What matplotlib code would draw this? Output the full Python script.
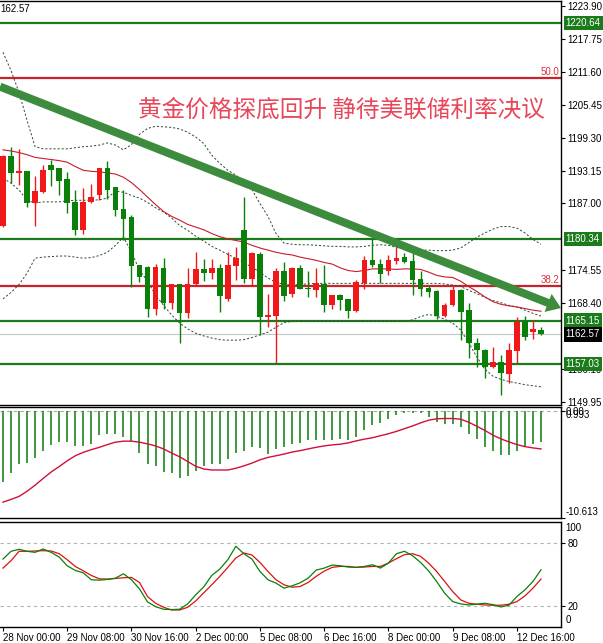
import matplotlib
matplotlib.use("Agg")
import matplotlib.pyplot as plt
import matplotlib.transforms as mtransforms
import numpy as np

plt.rcParams['font.family'] = ['Liberation Sans', 'DejaVu Sans']

# ---------------- data ----------------
opens = [1182.8, 1195.8, 1192.6, 1193.0, 1187.1, 1189.2, 1194.2, 1193.6, 1191.5, 1187.2,
         1182.0, 1187.2, 1188.5, 1193.6, 1190.0, 1185.9, 1184.5, 1175.5, 1175.2, 1167.4,
         1175.0, 1168.4, 1171.9, 1166.6, 1171.9, 1174.7, 1174.0, 1174.9, 1169.1, 1175.3,
         1182.0, 1172.9, 1177.5, 1165.9, 1166.0, 1174.4, 1170.2, 1174.9, 1171.3, 1170.8,
         1171.9, 1168.0, 1169.9, 1169.1, 1167.0, 1172.2, 1176.4, 1175.8, 1174.4, 1176.3,
         1177.0, 1176.2, 1173.0, 1171.2, 1170.6, 1166.0, 1168.0, 1170.8, 1167.1, 1160.9,
         1159.7, 1156.5, 1157.5, 1155.2, 1159.5, 1164.9, 1163.1, 1163.4]
highs = [1196.0, 1197.6, 1197.2, 1193.1, 1192.1, 1194.1, 1195.2, 1193.7, 1192.9, 1189.6,
         1189.8, 1190.7, 1193.7, 1195.0, 1190.1, 1189.5, 1184.8, 1175.6, 1175.3, 1175.8,
         1176.8, 1172.0, 1172.0, 1175.0, 1178.0, 1176.7, 1176.7, 1175.8, 1178.0, 1178.9,
         1188.2, 1178.0, 1178.0, 1170.2, 1174.9, 1176.1, 1175.1, 1175.5, 1174.4, 1174.9,
         1175.5, 1170.0, 1170.2, 1169.2, 1172.8, 1177.2, 1180.4, 1176.7, 1177.4, 1178.9,
         1177.7, 1177.8, 1174.5, 1171.8, 1170.8, 1168.5, 1171.8, 1171.1, 1168.4, 1162.0,
         1159.8, 1160.3, 1158.7, 1161.0, 1165.9, 1166.0, 1165.2, 1163.9]
lows = [1182.6, 1190.8, 1190.4, 1186.3, 1182.8, 1189.0, 1190.2, 1188.5, 1185.2, 1181.1,
        1181.4, 1187.0, 1187.6, 1187.9, 1184.6, 1180.1, 1171.4, 1172.4, 1165.9, 1166.2,
        1167.4, 1167.4, 1160.9, 1165.7, 1171.7, 1172.6, 1173.0, 1166.8, 1168.9, 1172.8,
        1172.2, 1171.8, 1162.5, 1164.0, 1157.3, 1168.8, 1169.6, 1171.0, 1169.6, 1169.6,
        1166.8, 1167.3, 1167.2, 1165.7, 1166.8, 1171.0, 1175.2, 1172.1, 1173.6, 1175.8,
        1175.9, 1169.9, 1169.7, 1169.5, 1165.4, 1165.8, 1167.8, 1161.5, 1158.1, 1156.5,
        1154.4, 1156.3, 1151.3, 1153.5, 1157.2, 1161.5, 1161.7, 1162.4]
closes = [1195.8, 1192.6, 1193.0, 1187.1, 1189.3, 1193.2, 1193.2, 1191.2, 1187.0, 1182.0,
          1187.2, 1188.3, 1193.6, 1189.6, 1185.7, 1184.2, 1175.4, 1173.2, 1167.4, 1175.2,
          1168.4, 1171.9, 1166.6, 1171.9, 1174.7, 1174.0, 1174.9, 1169.7, 1175.5, 1176.9,
          1172.9, 1177.7, 1165.9, 1166.2, 1174.4, 1169.7, 1175.0, 1171.1, 1171.0, 1172.1,
          1168.0, 1169.9, 1169.0, 1167.0, 1172.4, 1176.4, 1175.5, 1173.9, 1176.4, 1176.9,
          1176.1, 1172.8, 1171.0, 1170.5, 1166.0, 1168.0, 1170.8, 1166.8, 1160.9, 1159.7,
          1156.5, 1157.5, 1155.3, 1159.7, 1164.9, 1162.1, 1163.5, 1162.57]

ma_red = [1197.0, 1196.8, 1196.5, 1196.1, 1195.6, 1195.4, 1195.2, 1195.0, 1194.7, 1193.9,
          1193.2, 1193.0, 1192.9, 1192.7, 1192.5, 1191.9, 1190.9, 1189.6, 1188.2, 1186.8,
          1185.5, 1184.6, 1183.9, 1183.1, 1182.6, 1182.1, 1181.4, 1180.8, 1180.4, 1180.1,
          1179.8, 1179.2, 1178.7, 1178.3, 1177.9, 1177.6, 1177.4, 1177.0, 1176.7, 1176.4,
          1176.0, 1175.7, 1175.0, 1174.5, 1174.3, 1174.5, 1174.8, 1174.8, 1174.8, 1174.7,
          1174.8, 1174.8, 1174.7, 1174.2, 1173.6, 1173.3, 1173.2, 1172.5, 1171.5, 1170.6,
          1169.6, 1168.7, 1168.2, 1167.9, 1167.7, 1167.4, 1167.1, 1166.9]
bb_upper = [1215.2, 1211.8, 1207.7, 1202.5, 1197.6, 1197.2, 1197.2, 1197.2, 1197.2, 1197.4,
            1197.6, 1197.7, 1197.9, 1198.3, 1197.9, 1197.0, 1198.0, 1199.9, 1201.0, 1201.4,
            1201.3, 1201.2, 1200.9, 1200.3, 1199.4, 1198.2, 1196.0, 1194.5, 1193.2, 1192.3,
            1191.1, 1189.6, 1187.0, 1184.6, 1181.4, 1179.6, 1179.4, 1179.3, 1179.3, 1179.2,
            1179.1, 1179.0, 1179.0, 1178.9, 1178.9, 1179.0, 1179.2, 1179.3, 1179.2, 1178.8,
            1178.6, 1178.4, 1178.3, 1178.3, 1178.2, 1178.2, 1178.3, 1178.7, 1179.7, 1180.7,
            1181.5, 1182.2, 1182.7, 1182.7, 1182.4, 1181.5, 1180.3, 1179.4]
bb_middle = [1191.7, 1190.8, 1189.5, 1187.6, 1187.1, 1187.3, 1187.3, 1187.3, 1187.5, 1187.6,
             1187.6, 1187.6, 1187.7, 1188.0, 1189.3, 1189.1, 1188.5, 1188.0, 1187.2, 1186.2,
             1185.4, 1184.3, 1182.9, 1182.0, 1180.9, 1180.0, 1179.0, 1178.3, 1177.5, 1176.8,
             1176.0, 1175.1, 1174.2, 1173.1, 1172.3, 1171.9, 1171.8, 1171.9, 1172.0, 1172.1,
             1172.1, 1172.1, 1172.1, 1172.1, 1172.1, 1172.1, 1172.1, 1172.1, 1172.1, 1172.1,
             1172.1, 1172.1, 1172.1, 1172.1, 1172.1, 1172.0, 1171.8, 1171.5, 1170.8, 1170.2,
             1169.5, 1168.9, 1168.5, 1168.0, 1167.7, 1167.1, 1166.5, 1166.0]
bb_lower = [1169.2, 1170.4, 1171.9, 1174.0, 1176.8, 1177.0, 1177.1, 1177.2, 1177.2, 1177.0,
            1176.8, 1176.9, 1177.3, 1177.9, 1179.2, 1180.7, 1177.9, 1174.6, 1172.5, 1169.9,
            1168.0, 1166.2, 1164.7, 1163.6, 1162.8, 1162.3, 1161.9, 1161.6, 1161.5, 1161.5,
            1161.6, 1162.0, 1162.5, 1163.0, 1163.9, 1164.8, 1165.0, 1165.05, 1165.05, 1165.05,
            1165.05, 1165.05, 1165.05, 1165.05, 1165.05, 1165.05, 1165.05, 1165.05, 1165.05, 1165.05,
            1165.05, 1165.3, 1165.9, 1166.3, 1166.0, 1165.4, 1164.7, 1163.4, 1161.0, 1158.4,
            1156.1, 1154.8, 1154.2, 1153.8, 1153.5, 1153.2, 1153.0, 1152.8]

macd_hist = [-7.02, -6.12, -5.28, -5.11, -4.67, -3.93, -3.36, -3.09, -3.09, -3.43,
             -3.43, -3.26, -2.42, -2.32, -2.32, -2.59, -2.99, -4.20, -5.28, -5.44,
             -6.01, -6.12, -6.62, -6.45, -5.95, -5.48, -5.28, -5.28, -4.77, -4.20,
             -4.00, -3.53, -3.66, -4.27, -3.76, -3.60, -3.26, -3.19, -2.92, -2.86,
             -2.86, -2.86, -2.76, -2.86, -2.59, -1.92, -1.41, -1.18, -0.84, -0.40,
             -0.24, -0.24, -0.24, -0.64, -1.08, -1.31, -1.31, -1.58, -2.25, -2.76,
             -3.53, -3.93, -4.33, -4.33, -3.93, -3.53, -3.26, -3.09]
macd_signal = [-9.04, -8.77, -8.47, -7.96, -7.36, -6.69, -6.05, -5.51, -4.94, -4.44,
               -4.10, -3.83, -3.60, -3.33, -3.09, -2.99, -2.99, -3.09, -3.26, -3.46,
               -3.76, -4.17, -4.54, -5.01, -5.48, -5.75, -5.85, -5.85, -5.85, -5.68,
               -5.44, -5.17, -4.84, -4.60, -4.44, -4.27, -4.07, -3.93, -3.76, -3.60,
               -3.46, -3.36, -3.29, -3.16, -2.96, -2.79, -2.65, -2.45, -2.25, -2.02,
               -1.75, -1.48, -1.18, -0.91, -0.77, -0.74, -0.74, -0.81, -1.11, -1.51,
               -1.92, -2.39, -2.76, -3.06, -3.33, -3.53, -3.66, -3.76]

stoch_k = [64.7, 72.1, 74.0, 72.1, 71.1, 74.3, 71.1, 66.6, 58.3, 53.9,
           51.6, 45.0, 44.6, 45.3, 46.5, 50.7, 45.0, 36.3, 23.9, 19.4,
           16.9, 16.6, 16.9, 22.0, 30.6, 38.2, 49.1, 55.2, 64.1, 76.9,
           69.8, 64.7, 52.9, 45.0, 41.8, 37.0, 39.2, 42.1, 46.5, 54.2,
           56.1, 59.0, 58.3, 57.1, 56.8, 57.7, 59.3, 56.1, 60.9, 69.8,
           72.1, 67.9, 61.5, 53.5, 43.4, 32.2, 24.2, 22.0, 21.0, 21.7,
           22.6, 21.3, 19.1, 20.7, 29.0, 35.4, 43.4, 54.5]
stoch_d = [56.1, 63.1, 72.1, 72.1, 72.4, 72.7, 72.4, 69.8, 64.1, 57.7,
           53.5, 49.1, 45.9, 45.6, 46.2, 46.9, 47.2, 42.4, 29.0, 22.6,
           18.8, 16.2, 16.2, 18.8, 24.8, 32.5, 40.2, 48.2, 56.8, 65.7,
           70.5, 68.6, 61.5, 52.9, 45.0, 40.2, 37.9, 38.6, 42.4, 48.2,
           53.2, 56.8, 57.7, 57.7, 56.8, 57.1, 57.7, 57.7, 60.9, 65.1,
           68.9, 69.8, 67.3, 60.9, 52.9, 43.4, 33.8, 25.8, 22.6, 21.7,
           21.0, 20.7, 20.7, 21.7, 24.2, 29.6, 37.0, 45.6]

green_levels = [1220.64, 1180.34, 1165.15, 1157.03]
fibo_levels = [1210.36, 1171.63]
fibo_labels = ['50.0', '38.2']
last_price = 1162.57
trend_x = [-0.37, 69.49]
trend_y = [1208.8, 1167.5]

price_ticks = [1223.90, 1217.75, 1211.60, 1205.45, 1199.30, 1193.15, 1187.00,
               1174.55, 1168.40, 1156.10, 1149.95]
time_tick_idx = [0, 8, 16, 24, 32, 40, 48, 56, 64]
time_tick_labels = ['28 Nov 00:00', '29 Nov 08:00', '30 Nov 16:00', '2 Dec 00:00',
                    '5 Dec 08:00', '6 Dec 16:00', '8 Dec 00:00', '9 Dec 08:00', '12 Dec 16:00']
title_text = '黄金价格探底回升 静待美联储利率决议'

# ---------------- styling ----------------
RED = '#f01818'
GREEN = '#0a7f0a'
LINE_GREEN = '#1b7b1b'
FIB_RED = '#c8232c'
TREND = '#3d8c3d'
BAND = '#2e4a2e'

x = np.arange(len(closes))
XL = (-0.37, 69.49)

fig = plt.figure(figsize=(6.03, 6.43), dpi=100)
W = 561 / 603
ax1 = fig.add_axes([0, 1 - 405 / 643, W, 404.3 / 643])
ax2 = fig.add_axes([0, 1 - 518 / 643, W, 111 / 643])
ax3 = fig.add_axes([0, 1 - 627 / 643, W, 105 / 643])

for ax in (ax1, ax2, ax3):
    ax.set_xlim(*XL)
    ax.spines['left'].set_visible(False)
    for s in ('top', 'right', 'bottom'):
        ax.spines[s].set_color('black')
        ax.spines[s].set_linewidth(1.0)
    ax.yaxis.tick_right()
    ax.tick_params(axis='y', direction='out', length=3, width=0.8, labelsize=7, pad=1.5,
                   left=False, right=True)
    ax.set_facecolor('white')
for ax in (ax1, ax2):
    ax.tick_params(axis='x', bottom=False, labelbottom=False)

# ---------------- main panel ----------------
ax1.set_ylim(1149.41, 1224.83)
ax1.set_yticks(price_ticks)
ax1.set_yticklabels([f'{v:.2f}' for v in price_ticks])

for lv in green_levels:
    ax1.axhline(lv, color=LINE_GREEN, lw=1.6, zorder=1.5)
for lv in fibo_levels:
    ax1.axhline(lv, color=FIB_RED, lw=1.6, zorder=1.5)
ax1.axhline(last_price, color='#c4c4c4', lw=0.8, zorder=1.2)

blend1 = mtransforms.blended_transform_factory(ax1.transAxes, ax1.transData)
for lv, lab in zip(fibo_levels, fibo_labels):
    ax1.text(0.9965, lv + 0.15, lab, transform=blend1, ha='right', va='bottom',
             fontsize=7, color='#d8353e', zorder=7)

ax1.plot(x, bb_upper, color=BAND, lw=0.7, ls=(0, (2.2, 2)), zorder=2)
ax1.plot(x, bb_middle, color=BAND, lw=0.7, ls=(0, (2.2, 2)), zorder=2)
ax1.plot(x, bb_lower, color=BAND, lw=0.7, ls=(0, (2.2, 2)), zorder=2)
ax1.plot(x, ma_red, color='#c81c2c', lw=0.8, zorder=2.2)

o = np.array(opens); c = np.array(closes)
cols = [RED if cc >= oo else GREEN for oo, cc in zip(o, c)]
ax1.vlines(x, lows, highs, colors=cols, lw=1.0, zorder=3)
ax1.bar(x, np.maximum(np.abs(c - o), 0.3), bottom=np.minimum(o, c), width=0.7,
        color=cols, linewidth=0, zorder=4)

ax1.annotate('', xy=(trend_x[1], trend_y[1]), xytext=(trend_x[0], trend_y[0]),
             arrowprops=dict(arrowstyle='simple,head_length=1.0,head_width=1.4,tail_width=0.58',
                             mutation_scale=10, fc=TREND, ec='none', shrinkA=0, shrinkB=0),
             annotation_clip=False, zorder=6)

ax1.text(0.6087, 0.728, title_text, transform=ax1.transAxes, ha='center', va='center',
         fontsize=17, color='#e8475a', fontweight='light',
         family=['Noto Sans CJK SC', 'DejaVu Sans'], zorder=8)
ax1.text(0.001, 0.993, '162.57', transform=ax1.transAxes, ha='left', va='top',
         fontsize=7, color='black', zorder=8)

for lv in green_levels:
    ax1.text(1.0085, lv, f'{lv:.2f}', transform=blend1, ha='left', va='center', fontsize=7,
             color='white', clip_on=False, zorder=10,
             bbox=dict(boxstyle='square,pad=0.22', fc=LINE_GREEN, ec='none'))
ax1.text(1.0085, last_price, f'{last_price:.2f}', transform=blend1, ha='left', va='center',
         fontsize=7, color='white', clip_on=False, zorder=10,
         bbox=dict(boxstyle='square,pad=0.22', fc='black', ec='none'))

# ---------------- MACD panel ----------------
ax2.set_ylim(-10.613, 0.40)
ax2.axhline(0, color='#a8a8a8', lw=0.8, ls=(0, (3, 3)), zorder=1)
ax2.vlines(x, 0, macd_hist, colors=GREEN, lw=1.1, zorder=2)
ax2.plot(x, macd_signal, color='#d0103a', lw=1.0, zorder=3)
ax2.set_yticks([0, -10.613])
ax2.set_yticklabels(['', ''])
ax2.text(1.0085, 0.955, '0.00', transform=ax2.transAxes, ha='left', va='center', fontsize=7)
ax2.text(1.0085, 0.93, '0.993', transform=ax2.transAxes, ha='left', va='center', fontsize=7)
ax2.text(1.0085, 0.05, '-10.613', transform=ax2.transAxes, ha='left', va='center', fontsize=7)

# ---------------- Stochastic panel ----------------
ax3.set_ylim(0, 100)
for lv in (20, 80):
    ax3.axhline(lv, color='#b4b4b4', lw=0.8, ls=(0, (3, 3)), zorder=1)
ax3.plot(x, stoch_k, color=GREEN, lw=0.9, zorder=3)
ax3.plot(x, stoch_d, color='#e01010', lw=0.9, zorder=2.5)
ax3.set_yticks([20, 80])
ax3.set_yticklabels(['20', '80'])
ax3.text(1.0085, 0.946, '100', transform=ax3.transAxes, ha='left', va='center', fontsize=7)
ax3.text(1.0085, 0.07, '0', transform=ax3.transAxes, ha='left', va='center', fontsize=7)

ax3.set_xticks(time_tick_idx)
ax3.set_xticklabels(time_tick_labels)
ax3.tick_params(axis='x', direction='out', length=3, width=0.8, labelsize=7, pad=1)
for lab in ax3.get_xticklabels():
    lab.set_horizontalalignment('left')

fig.savefig('out.png', dpi=100, facecolor='white')
